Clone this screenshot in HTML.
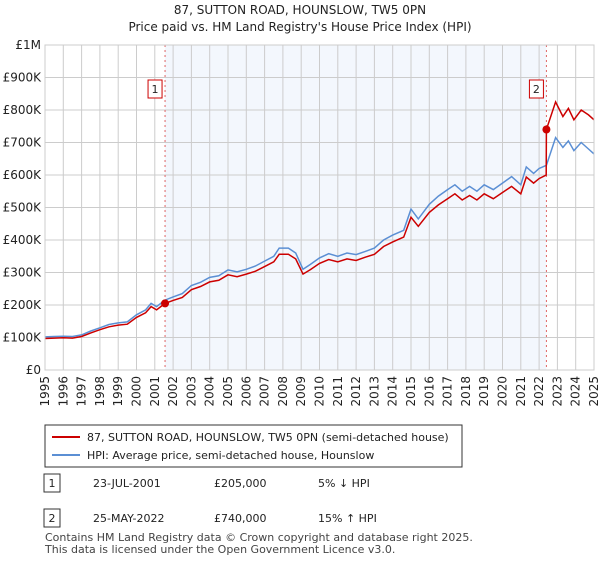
<!DOCTYPE html>
<html><head><meta charset="utf-8"><style>
body{margin:0;background:#fff;font-family:"Liberation Sans","DejaVu Sans",sans-serif;}
svg text{font-family:"DejaVu Sans","Liberation Sans",sans-serif;}
</style></head><body>
<svg id="c" width="600" height="560" viewBox="0 0 600 560" xmlns="http://www.w3.org/2000/svg">
<text x="300" y="14" text-anchor="middle" font-size="12" fill="#222">87, SUTTON ROAD, HOUNSLOW, TW5 0PN</text>
<text x="300" y="31" text-anchor="middle" font-size="12" fill="#222">Price paid vs. HM Land Registry's House Price Index (HPI)</text>
<g id="grid"></g>
<g id="series"></g>
<g id="axes"></g>
<g>
<rect x="45" y="425" width="417" height="42" fill="#fff" stroke="#333" stroke-width="1"/>
<line x1="52" y1="437" x2="80" y2="437" stroke="#cc0000" stroke-width="2"/>
<text x="87" y="441" font-size="11" fill="#222">87, SUTTON ROAD, HOUNSLOW, TW5 0PN (semi-detached house)</text>
<line x1="52" y1="455" x2="80" y2="455" stroke="#5b8fd4" stroke-width="2"/>
<text x="87" y="459" font-size="11" fill="#222">HPI: Average price, semi-detached house, Hounslow</text>
</g>
<g>
<rect x="44" y="474" width="16" height="18" fill="#fff" stroke="#333"/>
<text x="52" y="487" text-anchor="middle" font-size="11" fill="#222">1</text>
<text x="93" y="487" font-size="11" fill="#222">23-JUL-2001</text>
<text x="214" y="487" font-size="11" fill="#222">£205,000</text>
<text x="318" y="487" font-size="11" fill="#222">5% ↓ HPI</text>
<rect x="44" y="509" width="16" height="18" fill="#fff" stroke="#333"/>
<text x="52" y="522" text-anchor="middle" font-size="11" fill="#222">2</text>
<text x="93" y="522" font-size="11" fill="#222">25-MAY-2022</text>
<text x="214" y="522" font-size="11" fill="#222">£740,000</text>
<text x="318" y="522" font-size="11" fill="#222">15% ↑ HPI</text>
</g>
<text x="45" y="541" font-size="11" fill="#444">Contains HM Land Registry data © Crown copyright and database right 2025.</text>
<text x="45" y="553" font-size="11" fill="#444">This data is licensed under the Open Government Licence v3.0.</text>
</svg>
<script>
const hpiYears=[1995,1995.5,1996,1996.5,1997,1997.5,1998,1998.5,1999,1999.5,2000,2000.5,2000.8,2001.1,2001.56,2002,2002.5,2003,2003.5,2004,2004.5,2005,2005.5,2006,2006.5,2007,2007.5,2007.8,2008.3,2008.7,2009.1,2009.5,2010,2010.5,2011,2011.5,2012,2012.5,2013,2013.5,2014,2014.6,2015,2015.4,2016,2016.5,2017,2017.4,2017.8,2018.2,2018.6,2019,2019.5,2020,2020.5,2021,2021.3,2021.7,2022,2022.4,2022.9,2023.3,2023.6,2023.9,2024.3,2024.7,2025];
const hpiValues=[102,103,104,103,108,120,130,140,145,148,170,185,205,195,215,225,235,260,270,285,290,308,302,310,320,335,350,375,375,360,310,325,345,358,350,360,355,365,375,400,415,430,495,465,510,535,555,570,550,565,550,570,555,575,595,570,625,605,620,630,715,685,705,675,700,680,665];
const priceYears=[1995,1995.5,1996,1996.5,1997,1997.5,1998,1998.5,1999,1999.5,2000,2000.5,2000.8,2001.1,2001.56,2002,2002.5,2003,2003.5,2004,2004.5,2005,2005.5,2006,2006.5,2007,2007.5,2007.8,2008.3,2008.7,2009.1,2009.5,2010,2010.5,2011,2011.5,2012,2012.5,2013,2013.5,2014,2014.6,2015,2015.4,2016,2016.5,2017,2017.4,2017.8,2018.2,2018.6,2019,2019.5,2020,2020.5,2021,2021.3,2021.7,2022,2022.39,2022.4,2022.9,2023.3,2023.6,2023.9,2024.3,2024.7,2025];
const priceValues=[97,98,99,98,103,114,124,133,138,141,162,176,195,185,205,214,223,247,257,271,276,293,287,295,304,318,333,356,356,342,295,309,328,340,333,342,337,347,356,380,394,409,470,442,485,508,527,542,523,537,523,542,527,546,565,542,594,575,589,600,740,825,780,805,770,800,785,770];
const sales=[{year:2001.56,value:205,label:"1"},{year:2022.4,value:740,label:"2"}];
const yTicks=[0,100,200,300,400,500,600,700,800,900,1000];
const yTickLabels=["£0","£100K","£200K","£300K","£400K","£500K","£600K","£700K","£800K","£900K","£1M"];
const xTicks=[1995,1996,1997,1998,1999,2000,2001,2002,2003,2004,2005,2006,2007,2008,2009,2010,2011,2012,2013,2014,2015,2016,2017,2018,2019,2020,2021,2022,2023,2024,2025];

const NS="http://www.w3.org/2000/svg";
const X0=45,X1=594,Y0=370,Y1=45;
const xs=y=>X0+(y-1995)/(2025-1995)*(X1-X0);
const ys=v=>Y0-v/1000*(Y0-Y1);
function mk(tag,attrs,parent){const e=document.createElementNS(NS,tag);for(const k in attrs)e.setAttribute(k,attrs[k]);parent.appendChild(e);return e;}
const grid=document.getElementById('grid'),series=document.getElementById('series'),axes=document.getElementById('axes');
const shade=mk('rect',{x:xs(sales[0].year),y:Y1,width:xs(sales[1].year)-xs(sales[0].year),height:Y0-Y1,fill:'#eef3fc',opacity:0.7},grid);


yTicks.forEach((t,i)=>{
  const l=mk('line',{x1:X0,x2:X1,y1:ys(t),y2:ys(t),stroke:'#cccccc','stroke-width':1},grid);
  
  
  const tx=mk('text',{x:X0-4,y:ys(t)+4,'text-anchor':'end','font-size':12,fill:'#222'},axes);
  tx.textContent=yTickLabels[i];
  
  
});
xTicks.forEach(t=>{
  const l=mk('line',{x1:xs(t),x2:xs(t),y1:Y1,y2:Y0,stroke:'#cccccc','stroke-width':1},grid);
  
  
  const tx=mk('text',{x:0,y:0,'text-anchor':'end','font-size':12,fill:'#222',transform:`translate(${xs(t)+4},${Y0+6}) rotate(-90)`},axes);
  tx.textContent=t;
  
  
});
sales.forEach(s=>{
  const l=mk('line',{x1:xs(s.year),x2:xs(s.year),y1:Y1,y2:Y0,stroke:'#e06666','stroke-width':1,'stroke-dasharray':'2,3'},series);
  
  
});
function path(xa,va){return xa.map((y,i)=>(i?'L':'M')+xs(y).toFixed(1)+','+ys(va[i]).toFixed(1)).join('');}
const hp=mk('path',{d:path(hpiYears,hpiValues),fill:'none',stroke:'#5b8fd4','stroke-width':1.5},series);


const pp=mk('path',{d:path(priceYears,priceValues),fill:'none',stroke:'#cc0000','stroke-width':1.5},series);


sales.forEach(s=>{
  const c=mk('circle',{cx:xs(s.year),cy:ys(s.value),r:4,fill:'#cc0000'},series);
  
  
  const bx=xs(s.year)-16;
  const r=mk('rect',{x:bx-1,y:80,width:14,height:18,fill:'#fff',stroke:'#cc0000'},series);
  
  
  const t=mk('text',{x:bx+6,y:93,'text-anchor':'middle','font-size':11,fill:'#222'},series);
  t.textContent=s.label;
  
  
});
const fr=mk('rect',{x:X0,y:Y1,width:X1-X0,height:Y0-Y1,fill:'none',stroke:'#cccccc'},axes);


</script>
</body></html>
